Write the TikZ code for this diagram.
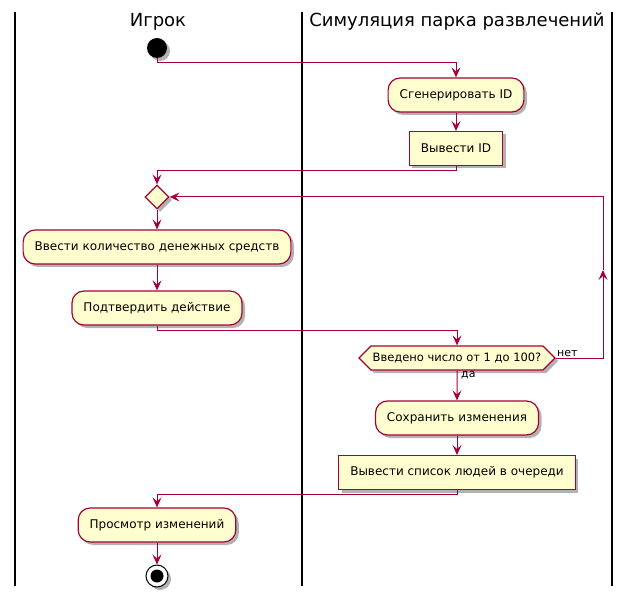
\documentclass[tikz,border=0pt]{standalone}
\usepackage{fontspec}
\setmainfont{DejaVu Sans}
\usetikzlibrary{arrows.meta,shapes,shadows,positioning,calc}

\definecolor{umlred}{HTML}{A80036}
\definecolor{umlfill}{HTML}{FEFECE}

\begin{document}
\begin{tikzpicture}[x=1pt,y=-1pt,
	umlshadow/.style={drop shadow={shadow xshift=3pt,shadow yshift=-3pt,opacity=0.3,fill=black}},
	act/.style={shape=rectangle,rounded corners=12pt,draw=umlred,line width=1.2pt,fill=umlfill,minimum height=34pt,inner xsep=11.5pt,font=\fontsize{12}{14}\selectfont,umlshadow},
	outbox/.style={act,sharp corners,line width=1pt},
	merge/.style={shape=diamond,draw=umlred,line width=1.2pt,fill=umlfill,inner sep=0pt,minimum width=24pt,minimum height=24pt,umlshadow},
	choice/.style={shape=signal,signal to=west and east,signal pointer angle=90,draw=umlred,line width=1.2pt,fill=umlfill,minimum width=196pt,minimum height=24pt,inner ysep=2pt,inner xsep=0pt,font=\fontsize{11.5}{13}\selectfont,umlshadow},
	flow/.style={draw=umlred,line width=1pt,-{Stealth[length=10pt,width=9pt,inset=4pt]}},
	swim/.style={draw=black,line width=1.5pt},
	lane/.style={font=\fontsize{18}{21}\selectfont},
	lbl/.style={font=\fontsize{11}{13}\selectfont,inner sep=1pt}
]
	\useasboundingbox (0,0) rectangle (631,601);
	% swimlanes
	\draw[swim] (15,12) -- (15,586);
	\draw[swim] (302,12) -- (302,586);
	\draw[swim] (612,12) -- (612,586);
	\node[lane](player) at (158,22) {Игрок};
	\node[lane](park) at (457,22) {Симуляция парка развлечений};

	\node[shape=circle,fill=black,minimum size=20pt,inner sep=0pt,umlshadow](start) at (157,48) {};
	\node[act](gen) at (456,95) {Сгенерировать ID};
	\node[outbox](showid) at (456,148.5) {Вывести ID};
	\node[merge](join) at (157,197) {};
	\node[act](money) at (157,247) {Ввести количество денежных средств};
	\node[act](confirm) at (157,308) {Подтвердить действие};
	\node[choice](check) at (457,358) {Введено число от 1 до 100?};
	\node[act](save) at (457,418) {Сохранить изменения};
	\node[outbox](queue) at (457,472.5) {Вывести список людей в очереди};
	\node[act](review) at (157,525) {Просмотр изменений};
	\node[shape=circle,draw=black,line width=1pt,fill=white,minimum size=22pt,inner sep=0pt,umlshadow](stop) at (157,576) {};
	\fill (stop) circle (6.5pt);
	\coordinate (loopup) at (603,270);

	\node[lbl,anchor=south west](no) at (check.east) {нет};
	\node[lbl,anchor=north west,xshift=3pt](yes) at (check.south) {да};

	\draw[flow](start) -- ++(0,15) -| (gen);
	\draw[flow](gen) -- (showid);
	\draw[flow](showid.south) -- ++(0,5) -| (join);
	\draw[flow](join) -- (money);
	\draw[flow](money) -- (confirm);
	\draw[flow](confirm.south) -- ++(0,5) -| (check);
	\draw[flow](check) -- (save);
	\draw[flow](save) -- (queue);
	\draw[flow](queue.south) -- ++(0,4) -| (review);
	\draw[flow](review) -- (stop);
	\draw[flow](check.east) -| (loopup);
	\draw[flow](loopup) |- (join.east);
\end{tikzpicture}
\end{document}
